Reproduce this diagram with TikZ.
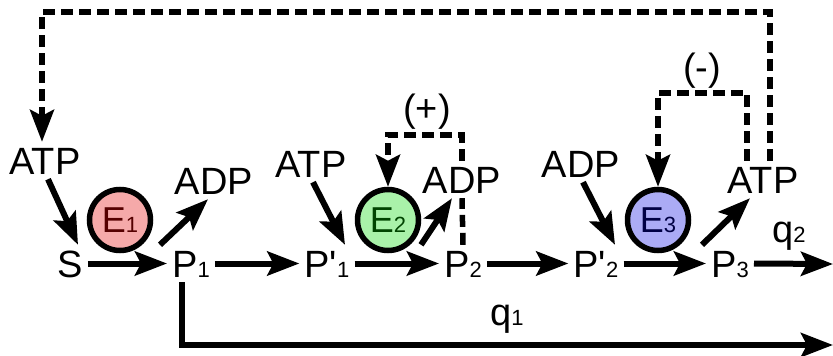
\documentclass[tikz,border=0pt]{standalone}
\usepackage{fontspec}
\setmainfont{Liberation Sans}
\usetikzlibrary{arrows.meta, positioning}
\definecolor{enzRed}{HTML}{F5A9A9}
\definecolor{enzRedText}{HTML}{550000}
\definecolor{enzGreen}{HTML}{A9F2A9}
\definecolor{enzGreenText}{HTML}{004400}
\definecolor{enzBlue}{HTML}{ABABF5}
\definecolor{enzBlueText}{HTML}{000044}
\newcommand{\lowsub}[1]{{\fontsize{22}{22}\selectfont #1}}

\begin{document}
\begin{tikzpicture}[
    x=1pt, y=-1pt,
    lbl/.style={font=\fontsize{38}{38}\selectfont, inner sep=5pt, anchor=base,
                text height=27pt, text depth=0pt},
    enz/.style={circle, draw, line width=5.5pt, minimum size=61pt, inner sep=0pt,
                fill=#1, font=\fontsize{36}{36}\selectfont},
    arr/.style={line width=6pt, -{Stealth[length=32pt, width=24pt, inset=6pt]}},
    dasharr/.style={arr, line width=5.5pt, dash pattern=on 12pt off 6pt},
    dashline/.style={line width=5.5pt, dash pattern=on 12pt off 6pt},
  ]
    \useasboundingbox (0,0) rectangle (833,356);

    % main chain
    \node[lbl] (S)   at (70,277)  {S};
    \node[lbl] (P1)  at (191,277) {P\lowsub{1}};
    \node[lbl] (Pp1) at (327,277) {P\textquotesingle\lowsub{1}};
    \node[lbl] (P2)  at (463,277) {P\lowsub{2}};
    \node[lbl] (Pp2) at (596,277) {P\textquotesingle\lowsub{2}};
    \node[lbl] (P3)  at (730,277) {P\lowsub{3}};
    \coordinate (q2end) at (833,264);
    \coordinate (q1end) at (833,345);

    % cofactors
    \node[lbl] (ATPa) at (45,174)  {ATP};
    \node[lbl] (ADPa) at (214,194) {ADP};
    \node[lbl] (ATPb) at (311,177) {ATP};
    \node[lbl] (ADPb) at (462,193) {ADP};
    \node[lbl] (ADPc) at (581,177) {ADP};
    \node[lbl] (ATPc) at (763,193) {ATP};

    % enzymes
    \node[enz=enzRed, text=enzRedText]     (E1) at (120,220) {E\lowsub{1}};
    \node[enz=enzGreen, text=enzGreenText] (E2) at (388,220) {E\lowsub{2}};
    \node[enz=enzBlue, text=enzBlueText]   (E3) at (658,220) {E\lowsub{3}};

    % fluxes
    \node[lbl] (q1) at (507,325) {q\lowsub{1}};
    \node[lbl] (q2) at (789,242) {q\lowsub{2}};

    \draw[arr] (S.east) -- (P1.west);
    \draw[arr] (P1.east) -- (Pp1.west);
    \draw[arr] (Pp1.east) -- (P2.west);
    \draw[arr] (P2.east) -- (Pp2.west);
    \draw[arr] (Pp2.east) -- (P3.west);
    \draw[arr] (P3.east) -- (q2end);
    \draw[arr] ([xshift=-9pt]P1.south) |- (q1end);

    \draw[arr] ([xshift=3pt]ATPa.south) -- ([xshift=8pt]S.north);
    \draw[arr] ([xshift=-7pt]P1.north west) -- ([xshift=-6pt]ADPa.south);
    \draw[arr] ([xshift=2pt]ATPb.south) -- ([xshift=18pt]Pp1.north);
    \draw[arr] ([xshift=-18pt]P2.north west) -- ([xshift=-10pt]ADPb.south);
    \draw[arr] ([xshift=2pt]ADPc.south) -- ([xshift=19pt]Pp2.north);
    \draw[arr] ([xshift=-28pt]P3.north) -- ([xshift=-13pt]ATPc.south);

    % regulation
    \coordinate (plusTL)  at (388,135);
    \coordinate (minusTL) at (658,93);
    \coordinate (topL)    at (42,12);
    \node[lbl, anchor=center] (plus)  at (427,108) {(+)};
    \node[lbl, anchor=center] (minus) at (702,67)  {(-)};
    \draw[dashline] (P2.north) -- (ADPb.south);
    \draw[dasharr] (ADPb.north) |- (plusTL) -- (E2.north);
    \draw[dasharr] ([xshift=-16pt]ATPc.north) |- (minusTL) -- (E3.north);
    \draw[dasharr] ([xshift=7pt]ATPc.north) |- (topL) -- ([xshift=-3pt]ATPa.north);
  \end{tikzpicture}
\end{document}
